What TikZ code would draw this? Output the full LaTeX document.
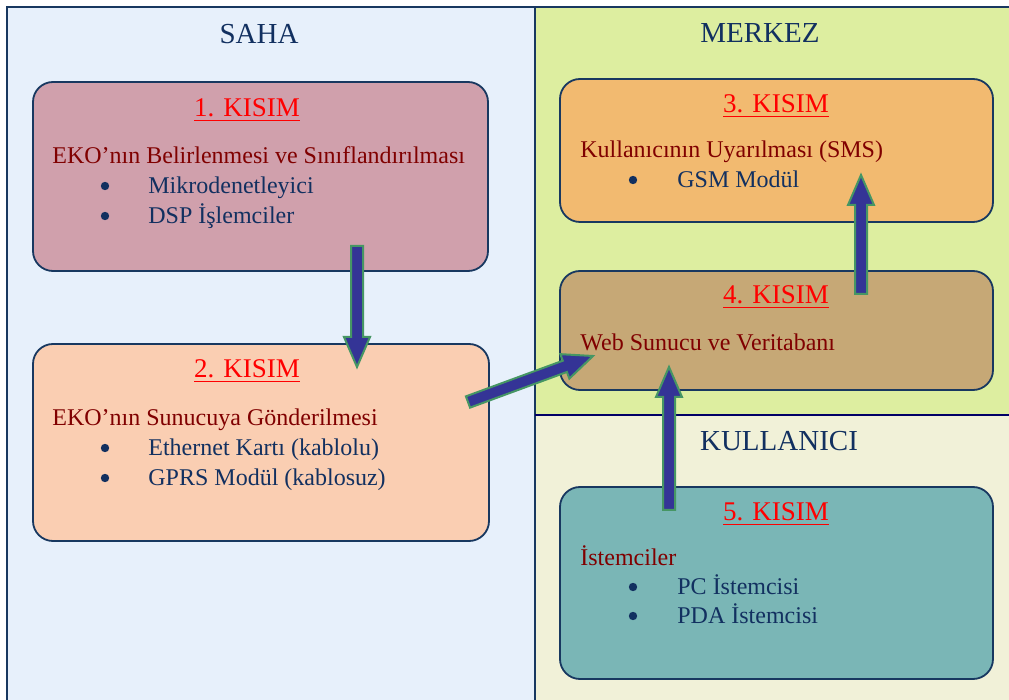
\documentclass[tikz,border=0pt]{standalone}
\usepackage{fontspec}
\setmainfont{Liberation Serif}
\usetikzlibrary{calc,positioning}

\definecolor{sahabg}{RGB}{231,240,251}
\definecolor{merkezbg}{RGB}{221,238,160}
\definecolor{kullbg}{RGB}{241,241,216}
\definecolor{renk1}{RGB}{208,160,172}
\definecolor{renk2}{RGB}{250,206,178}
\definecolor{renk3}{RGB}{242,186,112}
\definecolor{renk4}{RGB}{198,168,118}
\definecolor{renk5}{RGB}{122,182,182}
\definecolor{kenar}{RGB}{24,56,96}
\definecolor{koyukirmizi}{RGB}{128,0,0}
\definecolor{lacivert}{RGB}{18,48,96}
\definecolor{okmavi}{RGB}{52,52,150}
\definecolor{okyesil}{RGB}{70,150,100}

% block arrow between two coordinates
\newcommand{\blokok}[2]{%
  \coordinate (uc) at ($(#2)!15pt!(#1)$);
  \filldraw[okstil] ($(#1)!3pt!90:(#2)$) -- ($(uc)!3pt!90:(#2)$)
    -- ($(uc)!6.5pt!90:(#2)$) -- (#2) -- ($(uc)!6.5pt!-90:(#2)$)
    -- ($(uc)!3pt!-90:(#2)$) -- ($(#1)!3pt!-90:(#2)$) -- cycle;}

\begin{document}
\begin{tikzpicture}[x=0.5pt,y=-0.5pt,
	kutu/.style={draw=kenar, line width=0.9pt, rounded corners=10pt},
	bolge/.style={anchor=base, inner sep=0pt, text=lacivert, font=\fontsize{14.5}{17}\selectfont},
	baslik/.style={anchor=base, inner sep=0pt, text=red, font=\fontsize{13.5}{16}\selectfont},
	konu/.style={anchor=base west, inner sep=0pt, text=koyukirmizi, font=\fontsize{12}{14}\selectfont},
	nokta/.style={circle, fill=lacivert, inner sep=0pt, minimum size=4.2pt},
	madde/.style={anchor=base west, inner sep=0pt, text=lacivert, font=\fontsize{12}{14}\selectfont},
	okstil/.style={fill=okmavi, draw=okyesil, line width=1pt, line join=miter}]
	\useasboundingbox (0,0) rectangle (1009,700);
	
	% bolgeler
	\fill[white] (0,0) rectangle (1009,700);
	\fill[sahabg] (7,7) rectangle (535,700);
	\fill[merkezbg] (535,7) rectangle (1009,415);
	\fill[kullbg] (535,415) rectangle (1009,700);
	\draw[kenar, line width=1pt] (7,700) -- (7,7) -- (1009,7);
	\draw[kenar, line width=1pt] (535,7) -- (535,700);
	\draw[blue!40!black, line width=1pt] (535,415) -- (1009,415);
	
	\node[bolge] (saha) at (259,44) {SAHA};
	\node[bolge] (merkez) at (760,43) {MERKEZ};
	\node[bolge] (kullanici) at (779,451) {KULLANICI};
	
	% kutular
	\node[kutu, fill=renk1, minimum width=227.5pt, minimum height=94.5pt] (kisim1) at (260.5,176.5) {};
	\node[kutu, fill=renk2, minimum width=228pt, minimum height=98.5pt] (kisim2) at (261,442.5) {};
	\node[kutu, fill=renk3, minimum width=216.5pt, minimum height=71.5pt] (kisim3) at (776.5,150.5) {};
	\node[kutu, fill=renk4, minimum width=216.5pt, minimum height=59.5pt] (kisim4) at (776.5,330.5) {};
	\node[kutu, fill=renk5, minimum width=216.5pt, minimum height=96pt] (kisim5) at (776.5,583) {};
	
	% 1. kisim
	\node[baslik] (b1) at (247,117) {\underline{1. KISIM}};
	\node[konu] (k1) at (52,164) {EKO’nın Belirlenmesi ve Sınıflandırılması};
	\node[nokta] (n11) at (105,186) {};
	\node[madde] (m11) at (148,194) {Mikrodenetleyici};
	\node[nokta] (n12) at (105,216) {};
	\node[madde] (m12) at (148,224) {DSP İşlemciler};
	
	% 2. kisim
	\node[baslik] (b2) at (247,378) {\underline{2. KISIM}};
	\node[konu] (k2) at (52,426) {EKO’nın Sunucuya Gönderilmesi};
	\node[nokta] (n21) at (105,448) {};
	\node[madde] (m21) at (148,456) {Ethernet Kartı (kablolu)};
	\node[nokta] (n22) at (105,478) {};
	\node[madde] (m22) at (148,486) {GPRS Modül (kablosuz)};
	
	% 3. kisim
	\node[baslik] (b3) at (776,113) {\underline{3. KISIM}};
	\node[konu] (k3) at (580,158) {Kullanıcının Uyarılması (SMS)};
	\node[nokta] (n31) at (633,180) {};
	\node[madde] (m31) at (677,188) {GSM Modül};
	
	% 4. kisim
	\node[baslik] (b4) at (776,304) {\underline{4. KISIM}};
	\node[konu] (k4) at (580,351) {Web Sunucu ve Veritabanı};
	
	% 5. kisim
	\node[baslik] (b5) at (776,521) {\underline{5. KISIM}};
	\node[konu] (k5) at (580,566) {İstemciler};
	\node[nokta] (n51) at (633,587) {};
	\node[madde] (m51) at (677,595) {PC İstemcisi};
	\node[nokta] (n52) at (633,616) {};
	\node[madde] (m52) at (677,624) {PDA İstemcisi};
	
	% oklar
	\coordinate (ok1a) at (357,246);
	\coordinate (ok1b) at (357,367);
	\coordinate (ok2a) at (468,402);
	\coordinate (ok2b) at (593,356);
	\coordinate (ok3a) at (861,294);
	\coordinate (ok3b) at (861,175);
	\coordinate (ok4a) at (669,510);
	\coordinate (ok4b) at (669,367);
	\blokok{ok1a}{ok1b}
	\blokok{ok2a}{ok2b}
	\blokok{ok3a}{ok3b}
	\blokok{ok4a}{ok4b}
\end{tikzpicture}
\end{document}
